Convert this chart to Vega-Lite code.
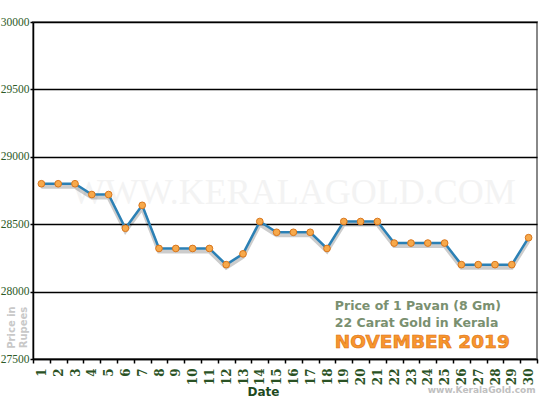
{
  "$schema": "https://vega.github.io/schema/vega-lite/v6.json",
  "width": 504,
  "height": 337,
  "autosize": {"type": "none"},
  "padding": {"left": 33, "top": 22, "right": 13, "bottom": 41},
  "background": "white",
  "config": {"view": {"stroke": "#888888", "strokeWidth": 2}},
  "data": {
    "values": [
      {"day": 1, "price": 28800}, {"day": 2, "price": 28800}, {"day": 3, "price": 28800},
      {"day": 4, "price": 28720}, {"day": 5, "price": 28720}, {"day": 6, "price": 28470},
      {"day": 7, "price": 28640}, {"day": 8, "price": 28320}, {"day": 9, "price": 28320},
      {"day": 10, "price": 28320}, {"day": 11, "price": 28320}, {"day": 12, "price": 28200},
      {"day": 13, "price": 28280}, {"day": 14, "price": 28520}, {"day": 15, "price": 28440},
      {"day": 16, "price": 28440}, {"day": 17, "price": 28440}, {"day": 18, "price": 28320},
      {"day": 19, "price": 28520}, {"day": 20, "price": 28520}, {"day": 21, "price": 28520},
      {"day": 22, "price": 28360}, {"day": 23, "price": 28360}, {"day": 24, "price": 28360},
      {"day": 25, "price": 28360}, {"day": 26, "price": 28200}, {"day": 27, "price": 28200},
      {"day": 28, "price": 28200}, {"day": 29, "price": 28200}, {"day": 30, "price": 28400}
    ]
  },
  "encoding": {
    "x": {
      "field": "day", "type": "ordinal",
      "scale": {"type": "band", "paddingInner": 0, "paddingOuter": 0},
      "axis": {
        "title": "Date", "labelAngle": 270, "tickBand": "extent",
        "labelFont": "DejaVu Serif", "labelFontWeight": "bold", "labelFontSize": 12,
        "labelColor": "#2a5224", "labelPadding": 5,
        "tickColor": "black", "tickSize": 4, "tickWidth": 1.5,
        "domainColor": "black", "domainWidth": 1.5, "grid": false,
        "titleFont": "DejaVu Sans", "titleFontWeight": "bold", "titleFontSize": 12,
        "titleColor": "#1e4a1e", "titleX": 230, "titleY": 36, "titleBaseline": "alphabetic", "titleAlign": "center"
      }
    },
    "y": {
      "field": "price", "type": "quantitative",
      "scale": {"domain": [27500, 30000], "nice": false, "zero": false},
      "axis": {
        "values": [27500, 28000, 28500, 29000, 29500, 30000], "format": "d",
        "grid": true, "gridColor": "black", "gridWidth": 1.5,
        "domainColor": "black", "domainWidth": 1.5,
        "tickColor": "black", "tickSize": 3, "tickWidth": 1.5,
        "labelFont": "Liberation Serif", "labelFontSize": 11.5, "labelColor": "#2d5a27", "labelPadding": 1,
        "title": ["Price in", "Rupees"], "titleFont": "DejaVu Sans", "titleFontWeight": "bold",
        "titleFontSize": 10, "titleColor": "#c8c8c8", "titleAngle": 270, "titleLineHeight": 12,
        "titleX": -22, "titleY": 305, "titleAlign": "center", "titleBaseline": "middle"
      }
    }
  },
  "layer": [
    {
      "data": {"values": [{"day": 16, "price": 28650, "label": "WWW.KERALAGOLD.COM"}]},
      "mark": {"type": "text", "font": "Liberation Serif", "fontSize": 36, "color": "#f3f3f3", "align": "center", "baseline": "alphabetic"},
      "encoding": {"text": {"field": "label"}}
    },
    {
      "mark": {"type": "line", "color": "#000000", "opacity": 0.2, "strokeWidth": 4},
      "encoding": {"yOffset": {"value": 3}}
    },
    {
      "mark": {"type": "line", "color": "#2b80b5", "strokeWidth": 2.5}
    },
    {
      "mark": {"type": "point", "filled": true, "shape": "circle", "size": 45, "fill": "#f7a94b", "stroke": "#d9761c", "strokeWidth": 1, "opacity": 1}
    },
    {
      "data": {"values": [
        {"day": 19, "price": 27865, "label": "Price of 1 Pavan (8 Gm)"},
        {"day": 19, "price": 27737, "label": "22 Carat Gold in Kerala"}
      ]},
      "mark": {"type": "text", "font": "DejaVu Sans", "fontWeight": "bold", "fontSize": 12.5, "color": "#7a9070", "align": "left", "baseline": "alphabetic", "dx": -9},
      "encoding": {"text": {"field": "label"}}
    },
    {
      "data": {"values": [{"day": 19, "price": 27582, "label": "NOVEMBER 2019"}]},
      "mark": {"type": "text", "font": "DejaVu Sans", "fontWeight": "bold", "fontSize": 18.5, "fill": "#f7962e", "stroke": "#e07010", "strokeWidth": 0.6, "align": "left", "baseline": "alphabetic", "dx": -9},
      "encoding": {"text": {"field": "label"}}
    },
    {
      "data": {"values": [{"day": 30, "price": 27248, "label": "www.KeralaGold.com"}]},
      "mark": {"type": "text", "font": "DejaVu Sans", "fontWeight": "bold", "fontSize": 9, "color": "#c0c0c0", "align": "right", "baseline": "alphabetic", "dx": 7},
      "encoding": {"text": {"field": "label"}}
    }
  ]
}
